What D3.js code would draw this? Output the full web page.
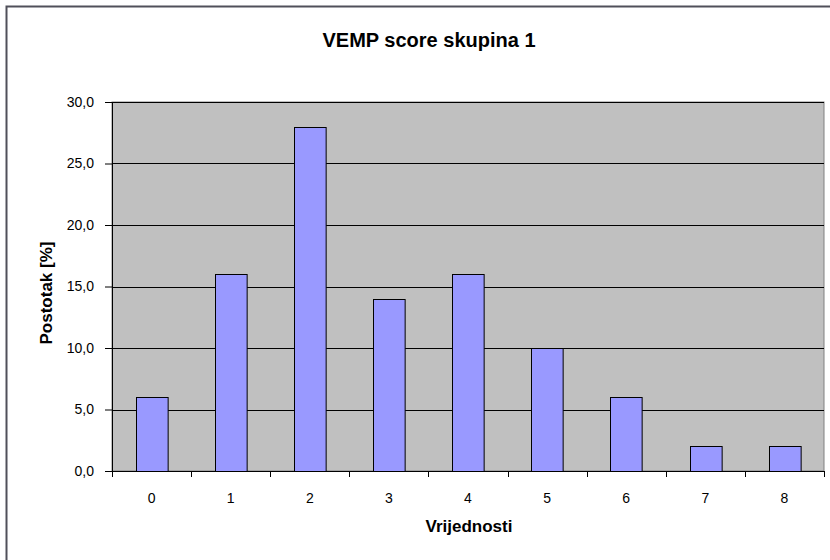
<!DOCTYPE html>
<html>
<head>
<meta charset="utf-8">
<script src="https://cdn.jsdelivr.net/npm/d3@7"></script>
<style>
  body { margin: 0; background: #fff; }
  text { font-family: Arial, "Liberation Sans", sans-serif; fill: #000; }
</style>
</head>
<body>
<div id="chart"></div>
<script>
// chart data
const categories = ["0", "1", "2", "3", "4", "5", "6", "7", "8"];
const values = [6, 16, 28, 14, 16, 10, 6, 2, 2];
const yTicks = [0, 5, 10, 15, 20, 25, 30];

const W = 830, H = 560;
const margin = {top: 102, right: 6, bottom: 89, left: 112};
const width = W - margin.left - margin.right,
      height = H - margin.top - margin.bottom;

const svg = d3.select("#chart")
  .append("svg")
    .attr("width", W)
    .attr("height", H);

// outer chart border (top and left visible)
svg.append("path")
  .attr("d", `M6.5,${H} V6.5 H${W}`)
  .attr("fill", "none")
  .attr("stroke", "#50505a")
  .attr("stroke-width", 2);

const g = svg.append("g")
  .attr("transform", `translate(${margin.left}, ${margin.top})`);

const x = d3.scaleBand()
  .domain(categories)
  .range([0, width])
  .paddingInner(0.6)
  .paddingOuter(0.3);

const xCat = d3.scaleBand()
  .domain(categories)
  .range([0, width]);

const y = d3.scaleLinear()
  .domain([0, 30])
  .range([height, 0]);

// plot area
g.append("rect")
  .attr("width", width)
  .attr("height", height)
  .attr("fill", "#c0c0c0")
  .attr("stroke", "#808080")
  .attr("stroke-width", 1);

// gridlines
g.selectAll(".grid")
  .data(yTicks.filter(d => d > 0))
  .join("line")
    .attr("x1", 0)
    .attr("x2", width)
    .attr("y1", d => Math.round(y(d)) + 0.5)
    .attr("y2", d => Math.round(y(d)) + 0.5)
    .attr("stroke", "#000")
    .attr("stroke-width", 1);

// bars
g.selectAll(".bar")
  .data(values)
  .join("rect")
    .attr("x", (d, i) => Math.round(x(categories[i])) + 0.5)
    .attr("y", d => Math.round(y(d)) + 0.5)
    .attr("width", x.bandwidth())
    .attr("height", d => Math.round(height - y(d)))
    .attr("fill", "#9999ff")
    .attr("stroke", "#000")
    .attr("stroke-width", 1);

// y axis
const yAxis = g.append("g")
  .call(d3.axisLeft(y)
    .tickValues(yTicks)
    .tickSize(7)
    .tickPadding(11)
    .tickFormat(d => d3.format(".1f")(d).replace(".", ",")));
yAxis.selectAll("text").style("font-size", "14px");

// x axis with ticks between categories
const xAxis = g.append("g")
  .attr("transform", `translate(0, ${height})`)
  .call(d3.axisBottom(xCat).tickSize(0).tickPadding(22));
xAxis.selectAll("text").style("font-size", "14px");
xAxis.selectAll(".bound")
  .data(d3.range(categories.length + 1))
  .join("line")
    .attr("class", "bound")
    .attr("x1", i => Math.round(i * xCat.step()) + 0.5)
    .attr("x2", i => Math.round(i * xCat.step()) + 0.5)
    .attr("y1", 0)
    .attr("y2", 6)
    .attr("stroke", "#000");

g.selectAll(".domain").attr("stroke", "#000");

// titles
svg.append("text")
  .attr("x", 429)
  .attr("y", 47)
  .attr("text-anchor", "middle")
  .style("font-size", "20px")
  .style("font-weight", "bold")
  .text("VEMP score skupina 1");

svg.append("text")
  .attr("x", 469)
  .attr("y", 532)
  .attr("text-anchor", "middle")
  .style("font-size", "17px")
  .style("font-weight", "bold")
  .text("Vrijednosti");

svg.append("text")
  .attr("transform", "rotate(-90)")
  .attr("x", -293)
  .attr("y", 52)
  .attr("text-anchor", "middle")
  .style("font-size", "17px")
  .style("font-weight", "bold")
  .text("Postotak [%]");
</script>
</body>
</html>
